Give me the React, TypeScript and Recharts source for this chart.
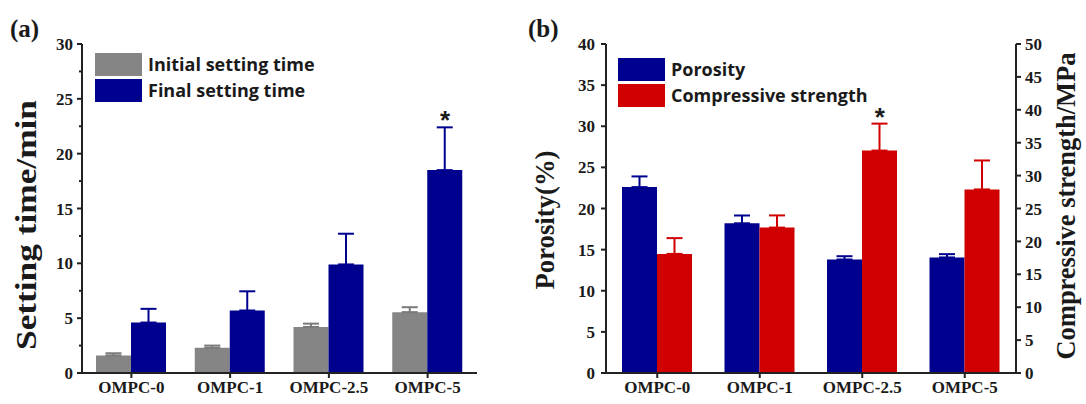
import React from 'react';
import { BarChart, Bar, XAxis, YAxis, ErrorBar, Legend, ReferenceDot } from 'recharts';

// ---------- data ----------
const categories = ['OMPC-0', 'OMPC-1', 'OMPC-2.5', 'OMPC-5'];

const initialTime = [1.6, 2.3, 4.2, 5.55];
const initialTimeErr = [0.2, 0.2, 0.3, 0.45];
const finalTime = [4.6, 5.7, 9.9, 18.5];
const finalTimeErr = [1.25, 1.75, 2.8, 3.9];
const settingMark = ['', '', '', '*'];

const porosity = [22.6, 18.2, 13.8, 14.05];
const porosityErr = [1.3, 0.95, 0.4, 0.4];
const strength = [18.1, 22.1, 33.8, 27.9];
const strengthErr = [2.4, 1.85, 4.1, 4.4];
const strengthMark = ['', '', '*', ''];

const settingTicks = [0, 2.5, 5, 7.5, 10, 12.5, 15, 17.5, 20, 22.5, 25, 27.5, 30];
const porosityTicks = [0, 5, 10, 15, 20, 25, 30, 35, 40];
const strengthTicks = [0, 5, 10, 15, 20, 25, 30, 35, 40, 45, 50];

const seriesA = ['Initial setting time', 'Final setting time'];
const seriesB = ['Porosity', 'Compressive strength'];

// ---------- styles ----------
const AXIS = '#222222';
const TEXT = '#1a1a1a';
const GRAY = '#858585';
const GRAY_ERR = '#7a7a7a';
const BLUE = '#00008f';
const RED = '#d00000';
const SERIF = '"Liberation Serif", "Times New Roman", serif';
const SANS = '"Open Sans", "Noto Sans", sans-serif';
const BAR = 35;

const dataA = categories.map((name, i) => ({
  name,
  initial: initialTime[i],
  initialErr: [0, initialTimeErr[i]],
  final: finalTime[i],
  finalErr: [0, finalTimeErr[i]],
}));

const dataB = categories.map((name, i) => ({
  name,
  porosity: porosity[i],
  porosityErr: [0, porosityErr[i]],
  strength: strength[i],
  strengthErr: [0, strengthErr[i]],
}));

const YTick = (props: any) => {
  const { x, y, payload, side, ts, tm } = props;
  const v = payload.value;
  const major = Math.abs(v % 5) < 1e-9;
  const axisX = side === 'left' ? x + ts + tm : x - ts - tm;
  const dir = side === 'left' ? -1 : 1;
  const len = major ? ts : 3;
  return (
    <g>
      <line x1={axisX} y1={y} x2={axisX + dir * len} y2={y} stroke={AXIS} strokeWidth={2} />
      {major && (
        <text
          x={x}
          y={y}
          dy="0.36em"
          textAnchor={side === 'left' ? 'end' : 'start'}
          fontFamily={SERIF}
          fontWeight="bold"
          fontSize={17}
          fill={TEXT}
        >
          {v}
        </text>
      )}
    </g>
  );
};

const makeLegend = (order: string[]) => (props: any) => {
  const payload = [...(props.payload || [])].sort(
    (a: any, b: any) => order.indexOf(a.value) - order.indexOf(b.value)
  );
  return (
    <div style={{ display: 'flex', flexDirection: 'column', gap: 3 }}>
      {payload.map((p: any, i: number) => (
        <div key={i} style={{ display: 'flex', alignItems: 'center', height: 23 }}>
          <div style={{ width: 47, height: 23, background: p.color }} />
          <span
            style={{
              marginLeft: 6,
              fontFamily: SANS,
              fontWeight: 700,
              fontSize: 18,
              color: TEXT,
              whiteSpace: 'nowrap',
              lineHeight: '23px',
            }}
          >
            {p.value}
          </span>
        </div>
      ))}
    </div>
  );
};

const Star = (dx: number) => (p: any) => (
  <text
    x={p.cx + dx}
    y={p.cy + 2}
    textAnchor="middle"
    fontFamily='"Liberation Sans", Arial, sans-serif'
    fontWeight="bold"
    fontSize={26}
    fill={TEXT}
  >
    *
  </text>
);

const RotTitle = ({ x, y, len, size, children }: any) => (
  <text
    transform={`translate(${x},${y}) rotate(-90)`}
    textAnchor="middle"
    fontFamily={SERIF}
    fontWeight="bold"
    fontSize={size}
    textLength={len}
    lengthAdjust="spacingAndGlyphs"
    fill={TEXT}
  >
    {children}
  </text>
);

const xTick = { fill: TEXT, fontSize: 17, fontWeight: 'bold', fontFamily: SERIF };
const axisLine = { stroke: AXIS, strokeWidth: 2 };

const panelLabel = (left: number, text: string) => (
  <div
    style={{
      position: 'absolute',
      left,
      top: 16,
      fontFamily: SERIF,
      fontWeight: 'bold',
      fontSize: 25,
      lineHeight: '25px',
      color: TEXT,
    }}
  >
    {text}
  </div>
);

export default function App() {
  const markA = settingMark.findIndex((m) => m !== '');
  const markB = strengthMark.findIndex((m) => m !== '');
  return (
    <div style={{ position: 'absolute', left: 0, top: 0, width: 1086, height: 404, background: '#fff', overflow: 'hidden' }}>
      {panelLabel(10, '(a)')}
      {panelLabel(528, '(b)')}
      <div style={{ position: 'absolute', left: 0, top: 0 }}>
        <BarChart width={520} height={404} data={dataA} margin={{ top: 44, right: 43, bottom: 0, left: 0 }} barGap={0} barSize={BAR}>
          <XAxis dataKey="name" height={31} interval={0} tickSize={5} tickMargin={3} axisLine={axisLine} tickLine={axisLine} tick={xTick} />
          <XAxis xAxisId="top" orientation="top" dataKey="name" height={0} tick={false} tickLine={false} axisLine={axisLine} />
          <YAxis
            domain={[0, 30]}
            ticks={settingTicks}
            interval={0}
            width={82}
            tickSize={5}
            tickMargin={4}
            tickLine={false}
            axisLine={axisLine}
            tick={(p: any) => <YTick {...p} side="left" ts={5} tm={4} />}
            label={() => (
              <RotTitle x={36} y={225} len={250} size={30}>
                Setting time/min
              </RotTitle>
            )}
          />
          <YAxis yAxisId="frame" orientation="right" width={0} domain={[0, 30]} tick={false} tickLine={false} axisLine={axisLine} />
          <Bar dataKey="initial" name={seriesA[0]} fill={GRAY} isAnimationActive={false}>
            <ErrorBar dataKey="initialErr" width={8} stroke={GRAY_ERR} strokeWidth={2} />
          </Bar>
          <Bar dataKey="final" name={seriesA[1]} fill={BLUE} isAnimationActive={false}>
            <ErrorBar dataKey="finalErr" width={8} stroke={BLUE} strokeWidth={2} />
          </Bar>
          {markA >= 0 && (
            <ReferenceDot
              x={categories[markA]}
              y={finalTime[markA] + finalTimeErr[markA]}
              r={1}
              shape={Star(BAR / 2)}
              ifOverflow="visible"
            />
          )}
          <Legend
            layout="vertical"
            align="center"
            verticalAlign="middle"
            content={makeLegend(seriesA)}
            wrapperStyle={{ left: 95, top: 53, width: 260, height: 50 }}
          />
        </BarChart>
      </div>
      <div style={{ position: 'absolute', left: 520, top: 0 }}>
        <BarChart width={566} height={404} data={dataB} margin={{ top: 44, right: 0, bottom: 0, left: 0 }} barGap={0} barSize={BAR}>
          <XAxis dataKey="name" height={31} interval={0} tickSize={5} tickMargin={3} axisLine={axisLine} tickLine={axisLine} tick={xTick} />
          <XAxis xAxisId="top" orientation="top" dataKey="name" height={0} tick={false} tickLine={false} axisLine={axisLine} />
          <YAxis
            yAxisId="left"
            domain={[0, 40]}
            ticks={porosityTicks}
            interval={0}
            width={86}
            tickSize={5}
            tickMargin={6}
            tickLine={false}
            axisLine={axisLine}
            tick={(p: any) => <YTick {...p} side="left" ts={5} tm={6} />}
            label={() => (
              <RotTitle x={34} y={220} len={139} size={28}>
                Porosity(%)
              </RotTitle>
            )}
          />
          <YAxis
            yAxisId="right"
            orientation="right"
            domain={[0, 50]}
            ticks={strengthTicks}
            interval={0}
            width={70}
            tickSize={5}
            tickMargin={4}
            tickLine={false}
            axisLine={axisLine}
            tick={(p: any) => <YTick {...p} side="right" ts={5} tm={4} />}
            label={() => (
              <RotTitle x={555} y={206} len={307} size={27}>
                Compressive strength/MPa
              </RotTitle>
            )}
          />
          <Bar yAxisId="left" dataKey="porosity" name={seriesB[0]} fill={BLUE} isAnimationActive={false}>
            <ErrorBar dataKey="porosityErr" width={8} stroke={BLUE} strokeWidth={2} />
          </Bar>
          <Bar yAxisId="right" dataKey="strength" name={seriesB[1]} fill={RED} isAnimationActive={false}>
            <ErrorBar dataKey="strengthErr" width={8} stroke={RED} strokeWidth={2} />
          </Bar>
          {markB >= 0 && (
            <ReferenceDot
              yAxisId="right"
              x={categories[markB]}
              y={strength[markB] + strengthErr[markB]}
              r={1}
              shape={Star(BAR / 2)}
              ifOverflow="visible"
            />
          )}
          <Legend
            layout="vertical"
            align="center"
            verticalAlign="middle"
            content={makeLegend(seriesB)}
            wrapperStyle={{ left: 98, top: 58, width: 300, height: 50 }}
          />
        </BarChart>
      </div>
    </div>
  );
}
